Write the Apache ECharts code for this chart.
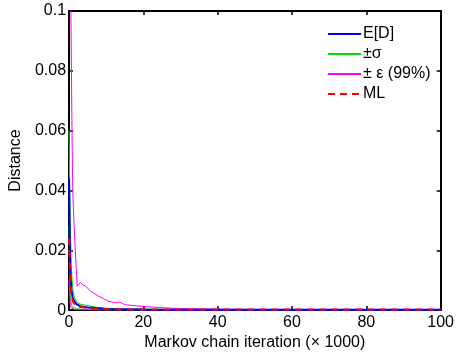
<!DOCTYPE html>
<html><head><meta charset="utf-8">
<script src="https://cdn.jsdelivr.net/npm/echarts@6/dist/echarts.min.js"></script>
<style>html,body{margin:0;padding:0;background:#fff}#c{width:457px;height:356px}</style>
</head><body><div id="c"></div>
<script>
// iteration (x 1000)
const iterEps = [0, 0.5, 0.8, 1.0, 1.3, 1.8, 2.2, 2.6, 3.1, 3.6, 4.5, 5.8, 7.9, 10.5, 12.5, 13.6, 15, 20, 25, 30, 40, 50, 60, 70, 80, 90, 100];
const epsUpper = [0.13, 0.1, 0.06, 0.04, 0.03, 0.017, 0.008, 0.0085, 0.0093, 0.0085, 0.008, 0.0063, 0.0047, 0.003, 0.0024, 0.0027, 0.0018, 0.0012, 0.0008, 0.0005, 0.0003, 0.0002, 0.0002, 0.0002, 0.0002, 0.0002, 0.0002];
const iterFast = [0, 0.3, 0.6, 1, 1.5, 2, 3, 5, 8, 10, 15, 20, 30, 40, 60, 80, 100];
const sigmaUpper = [0.06, 0.03, 0.015, 0.007, 0.004, 0.0028, 0.002, 0.0015, 0.0008, 0.0006, 0.0004, 0.0003, 0.0002, 0.0002, 0.0002, 0.0002, 0.0002];
const meanD = [0.044, 0.015, 0.007, 0.004, 0.0028, 0.002, 0.0013, 0.0009, 0.0006, 0.0004, 0.0003, 0.0002, 0.0001, 0.0001, 0.0001, 0.0001, 0.0001];
const sigmaLower = [0.028, 0.006, 0.002, 0.001, 0.0007, 0.0005, 0.0003, 0.0002, 0.0001, 0.0001, 0.0001, 0.0001, 0.0001, 0.0001, 0.0001, 0.0001, 0.0001];
const epsLower = [0.01, 0.002, 0.0008, 0.0004, 0.0002, 0.0001, 0.0001, 0.0001, 0.0001, 0.0001, 0.0001, 0.0001, 0.0001, 0.0001, 0.0001, 0.0001, 0.0001];
const mlD = [0.024, 0.01, 0.005, 0.003, 0.002, 0.0015, 0.001, 0.0007, 0.0004, 0.0003, 0.0002, 0.0002, 0.0002, 0.0002, 0.0002, 0.0002, 0.0002];
const xTicks = [0, 20, 40, 60, 80, 100];
const yTicks = [0, 0.02, 0.04, 0.06, 0.08, 0.1];

const pair = (xs, ys) => xs.map((x, i) => [x, ys[i]]);
const FONT = 'Liberation Sans, Arial, sans-serif';
const chart = echarts.init(document.getElementById('c'), null, {renderer: 'canvas'});
const axisCommon = {
  axisLine: {show: true, onZero: false, lineStyle: {color: '#000', width: 2}},
  axisTick: {show: true, inside: true, length: 4, lineStyle: {color: '#000', width: 1.5}},
  splitLine: {show: false}
};
chart.setOption({
  animation: false,
  backgroundColor: '#fff',
  textStyle: {fontFamily: FONT},
  grid: {left: 64, top: 11, right: 15, bottom: 45, containLabel: false},
  legend: {
    orient: 'vertical', left: 327, top: 26, itemWidth: 33, itemHeight: 14, itemGap: 4,
    itemStyle: {opacity: 0},
    textStyle: {fontFamily: FONT, fontSize: 16, color: '#000', padding: [0, 0, 0, -3]},
    data: ['E[D]', '±σ', '± ε (99%)', 'ML'],
    padding: 0
  },
  xAxis: [
    Object.assign({type: 'value', position: 'bottom', min: 0, max: 100, interval: 20,
      name: 'Markov chain iteration (× 1000)', nameLocation: 'middle', nameGap: 22,
      nameTextStyle: {fontFamily: FONT, fontSize: 16, color: '#000'},
      axisLabel: {fontFamily: FONT, fontSize: 16, color: '#000', margin: 4}}, axisCommon),
    Object.assign({type: 'value', position: 'top', min: 0, max: 100, interval: 20,
      axisLabel: {show: false}}, axisCommon)
  ],
  yAxis: [
    Object.assign({type: 'value', position: 'left', min: 0, max: 0.1, interval: 0.02,
      name: 'Distance', nameLocation: 'middle', nameGap: 42,
      nameTextStyle: {fontFamily: FONT, fontSize: 16, color: '#000'},
      axisLabel: {fontFamily: FONT, fontSize: 16, color: '#000', margin: 3,
        formatter: v => String(Math.round(v * 100) / 100)}}, axisCommon),
    Object.assign({type: 'value', position: 'right', min: 0, max: 0.1, interval: 0.02,
      axisLabel: {show: false}}, axisCommon)
  ],
  series: [
    {name: '±σ', type: 'line', symbol: 'none', data: pair(iterFast, sigmaUpper), lineStyle: {color: '#00dd00', width: 1}, itemStyle: {color: '#00dd00'}, z: 2},
    {name: '±σ', type: 'line', symbol: 'none', data: pair(iterFast, sigmaLower), lineStyle: {color: '#00dd00', width: 1}, itemStyle: {color: '#00dd00'}, z: 2},
    {name: '± ε (99%)', type: 'line', symbol: 'none', data: pair(iterEps, epsUpper), lineStyle: {color: '#ff00ff', width: 1}, itemStyle: {color: '#ff00ff'}, z: 2},
    {name: '± ε (99%)', type: 'line', symbol: 'none', data: pair(iterFast, epsLower), lineStyle: {color: '#ff00ff', width: 1}, itemStyle: {color: '#ff00ff'}, z: 2},
    {name: 'E[D]', type: 'line', symbol: 'none', data: pair(iterFast, meanD), lineStyle: {color: '#0000ff', width: 2}, itemStyle: {color: '#0000ff'}, z: 3},
    {name: 'ML', type: 'line', symbol: 'none', data: pair(iterFast, mlD), lineStyle: {color: '#ff0000', width: 2, type: [7, 5]}, itemStyle: {color: '#ff0000'}, z: 4}
  ]
});
</script></body></html>
